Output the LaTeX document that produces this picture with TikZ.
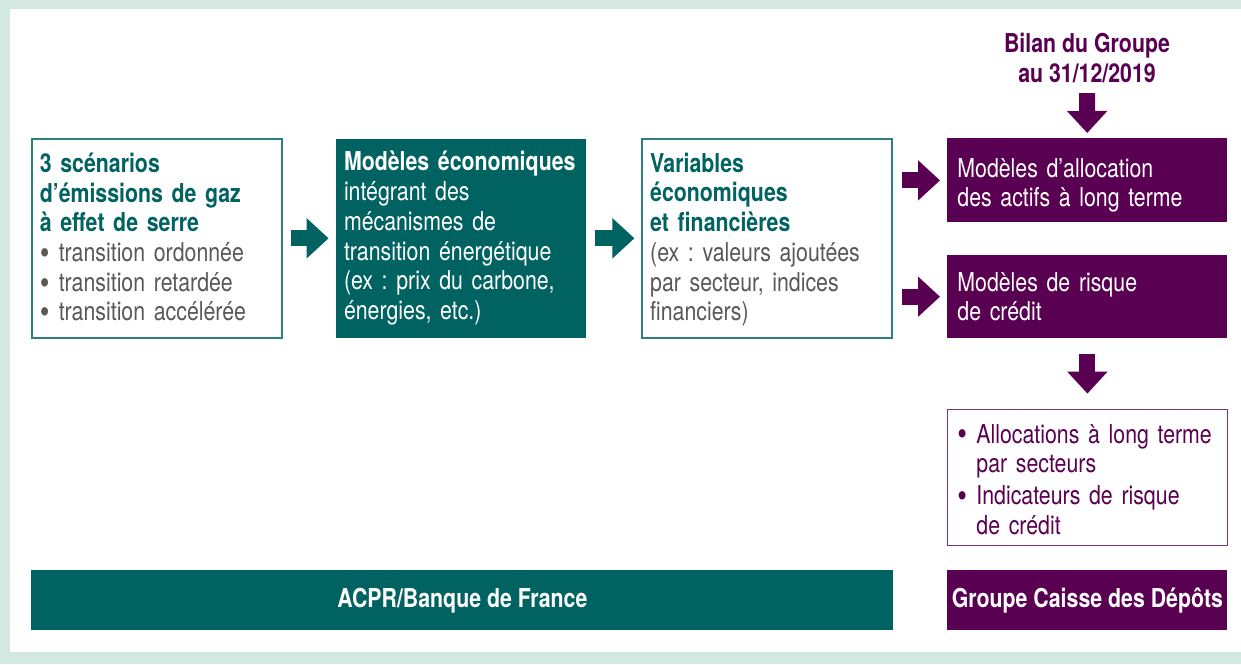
\documentclass[tikz,border=0pt]{standalone}
\usepackage{fontspec}
\setmainfont{TeX Gyre Heros}[FakeStretch=0.82]
\usepackage{graphicx}
\usepackage{tikz}
\usetikzlibrary{positioning,calc,arrows.meta}

\definecolor{cdcTeal}{RGB}{0,99,98}
\definecolor{cdcTealLine}{RGB}{45,128,128}
\definecolor{cdcPurple}{RGB}{90,0,82}
\definecolor{cdcPurpleLine}{RGB}{125,50,118}
\definecolor{cdcGrey}{RGB}{88,88,90}
\definecolor{cdcFrame}{RGB}{210,232,224}

\tikzset{
  basebox/.style={rectangle, anchor=north west, inner xsep=4pt, inner ysep=0pt,
    align=left, font=\fontsize{13pt}{14.85pt}\selectfont\frenchspacing},
  tealbox/.style={basebox, draw=cdcTealLine, line width=0.8pt, fill=white,
    text width=117pt, minimum height=99.5pt},
  tealfill/.style={basebox, fill=cdcTeal, text=white,
    text width=117pt, minimum height=99.5pt},
  purplefill/.style={basebox, fill=cdcPurple, text=white, inner xsep=5pt,
    text width=130pt, minimum height=42pt},
  purplebox/.style={basebox, draw=cdcPurpleLine, line width=0.8pt, fill=white,
    text=cdcPurple, inner xsep=5pt, text width=130pt, minimum height=68pt},
  bandbox/.style={rectangle, anchor=north west, inner sep=0pt, minimum height=30pt,
    text=white, align=center, font=\fontsize{13pt}{14.85pt}\selectfont\bfseries},
  bigarrow/.style={line width=8pt, -{Triangle[length=11pt,width=19.5pt]}},
}
\newcommand{\puce}{\makebox[9.5pt][l]{\raisebox{-1.4pt}{\scalebox{1.3}{\textbullet}}}}

\begin{document}
\begin{tikzpicture}[x=0.5pt,y=-0.5pt]
  % cadre
  \useasboundingbox (0,0) rectangle (1241,664);
  \fill[cdcFrame] (0,0) rectangle (1241,664);
  \fill[white] (10,9) rectangle (1241,652);

  % ligne ACPR
  \node[tealbox] (scen) at (31,138)
    {\textcolor{cdcTeal}{\bfseries 3 scénarios\\ d’émissions de gaz\\ à effet de serre}\\
     \color{cdcGrey}\puce transition ordonnée\\ \puce transition retardée\\
     \puce transition accélérée};
  \node[tealfill, right=26.5pt of scen] (modl)
    {{\bfseries Modèles économiques}\\ intégrant des\\ mécanismes de\\
     transition énergétique\\ (ex : prix du carbone,\\ énergies, etc.)};
  \node[tealbox, right=27.5pt of modl] (vars)
    {\rule{0pt}{11pt}\textcolor{cdcTeal}{\bfseries Variables\\ économiques\\ et financières}\\
     \color{cdcGrey}(ex : valeurs ajoutées\\ par secteur, indices\\ financiers)};

  % colonne CDC
  \node[purplefill] (alloc) at (947,138)
    {\rule{0pt}{14.4pt}Modèles d’allocation\\ des actifs à long terme};
  \node[purplefill, minimum height=41.5pt, below=16pt of alloc] (risk)
    {Modèles de risque\\ de crédit};
  \node[purplebox, below=35pt of risk] (res)
    {\rule{0pt}{11.5pt}\puce Allocations à long terme\\ \hspace*{9.5pt}par secteurs\\[1pt]
     \puce Indicateurs de risque\\ \hspace*{9.5pt}de crédit};
  \node[font=\fontsize{13pt}{14.85pt}\selectfont\bfseries, text=cdcPurple, align=center,
    inner sep=0pt] (bilan) at (1087,58) {Bilan du Groupe\\ au 31/12/2019};

  % bandeaux
  \node[bandbox, fill=cdcTeal, minimum width=431pt] (acpr) at (31,570)
    {ACPR/Banque de France};
  \node[bandbox, fill=cdcPurple, minimum width=140pt] (groupe) at (947,570)
    {Groupe Caisse des Dépôts};

  % fleches
  \draw[bigarrow, cdcTeal, shorten <=4pt, shorten >=3.5pt] (scen) -- (modl);
  \draw[bigarrow, cdcTeal, shorten <=4.5pt, shorten >=3.5pt] (modl) -- (vars);
  \draw[bigarrow, cdcPurple, shorten <=4.5pt, shorten >=3.5pt] (vars.east |- alloc) -- (alloc);
  \draw[bigarrow, cdcPurple, shorten <=4.5pt, shorten >=3.5pt] (vars.east |- risk) -- (risk);
  \draw[bigarrow, cdcPurple, shorten <=5pt, shorten >=2.5pt] (bilan) -- (alloc);
  \draw[bigarrow, cdcPurple, shorten <=7.5pt, shorten >=7.5pt] (risk) -- (res);
\end{tikzpicture}
\end{document}
